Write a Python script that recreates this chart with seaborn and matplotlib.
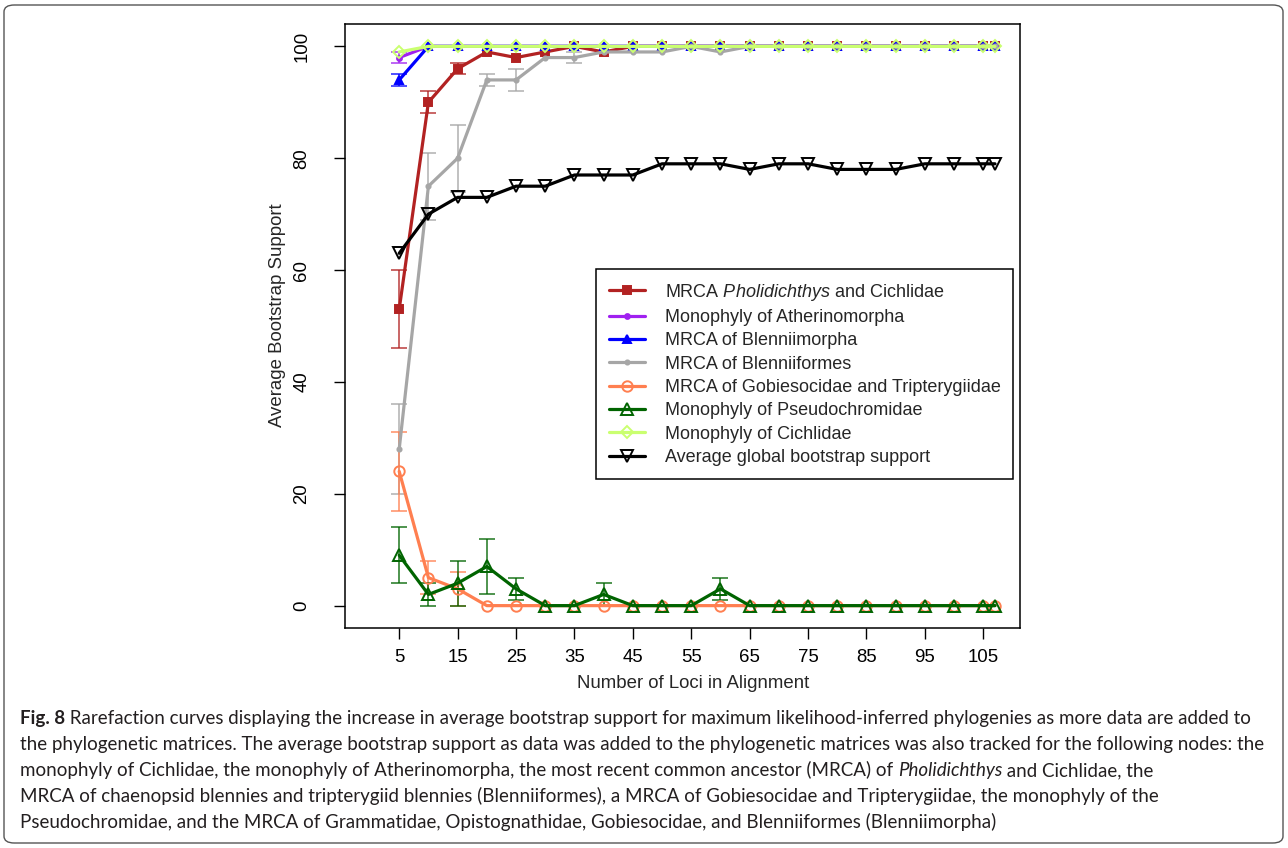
import numpy as np
import pandas as pd
import seaborn as sns
import matplotlib.pyplot as plt
from matplotlib.patches import FancyBboxPatch

# Data
loci = [5, 10, 15, 20, 25, 30, 35, 40, 45, 50, 55, 60, 65, 70, 75, 80, 85, 90, 95, 100, 105, 107]

pholidichthys = [53, 90, 96, 99, 98, 99, 100, 99, 100, 100, 100, 100, 100, 100, 100, 100, 100, 100, 100, 100, 100, 100]
atherinomorpha = [98, 100, 100, 100, 100, 100, 100, 100, 100, 100, 100, 100, 100, 100, 100, 100, 100, 100, 100, 100, 100, 100]
blenniimorpha = [94, 100, 100, 100, 100, 100, 100, 100, 100, 100, 100, 100, 100, 100, 100, 100, 100, 100, 100, 100, 100, 100]
blenniiformes = [28, 75, 80, 94, 94, 98, 98, 99, 99, 99, 100, 99, 100, 100, 100, 100, 100, 100, 100, 100, 100, 100]
gobiesocidae = [24, 5, 3, 0, 0, 0, 0, 0, 0, 0, 0, 0, 0, 0, 0, 0, 0, 0, 0, 0, 0, 0]
pseudochromidae = [9, 2, 4, 7, 3, 0, 0, 2, 0, 0, 0, 3, 0, 0, 0, 0, 0, 0, 0, 0, 0, 0]
cichlidae = [99, 100, 100, 100, 100, 100, 100, 100, 100, 100, 100, 100, 100, 100, 100, 100, 100, 100, 100, 100, 100, 100]
global_support = [63, 70, 73, 73, 75, 75, 77, 77, 77, 79, 79, 79, 78, 79, 79, 78, 78, 78, 79, 79, 79, 79]

# error bars (x, lower, upper)
pholid_err_x, pholid_lo, pholid_hi = [5, 10, 15], [46, 88, 95], [60, 92, 97]
ather_err_x, ather_lo, ather_hi = [5], [97], [99]
bmorpha_err_x, bmorpha_lo, bmorpha_hi = [5], [93], [95]
bformes_err_x = [5, 10, 15, 20, 25, 35]
bformes_lo = [20, 69, 74, 93, 92, 97]
bformes_hi = [36, 81, 86, 95, 96, 99]
gobie_err_x, gobie_lo, gobie_hi = [5, 10, 15], [17, 2, 0], [31, 8, 6]
pseudo_err_x = [5, 10, 15, 20, 25, 40, 60]
pseudo_lo = [4, 0, 0, 2, 1, 0, 1]
pseudo_hi = [14, 4, 8, 12, 5, 4, 5]

x_ticks = [5, 15, 25, 35, 45, 55, 65, 75, 85, 95, 105]
y_ticks = [0, 20, 40, 60, 80, 100]

caption_lines = [
    [("Fig. 8", "bold"), (" Rarefaction curves displaying the increase in average bootstrap support for maximum likelihood-inferred phylogenies as more data are added to", "normal")],
    [("the phylogenetic matrices. The average bootstrap support as data was added to the phylogenetic matrices was also tracked for the following nodes: the", "normal")],
    [("monophyly of Cichlidae, the monophyly of Atherinomorpha, the most recent common ancestor (MRCA) of ", "normal"), ("Pholidichthys", "italic"), (" and Cichlidae, the", "normal")],
    [("MRCA of chaenopsid blennies and tripterygiid blennies (Blenniiformes), a MRCA of Gobiesocidae and Tripterygiidae, the monophyly of the", "normal")],
    [("Pseudochromidae, and the MRCA of Grammatidae, Opistognathidae, Gobiesocidae, and Blenniiformes (Blenniimorpha)", "normal")],
]

sns.set_style("ticks")
plt.rcParams['font.family'] = ['Liberation Sans', 'DejaVu Sans']
plt.rcParams['mathtext.fontset'] = 'custom'
plt.rcParams['mathtext.rm'] = 'Liberation Sans'
plt.rcParams['mathtext.it'] = 'Liberation Sans:italic'

fig = plt.figure(figsize=(12.88, 8.48), dpi=100)
ax = fig.add_axes([345 / 1288, 1 - 628 / 848, 675 / 1288, 604 / 848])

# label, values, colour, marker, size, filled, error bars
series = [
    (r"MRCA $\it{Pholidichthys}$ and Cichlidae", pholidichthys, "#B22222", "s", 5.5, True,
     pholid_err_x, pholid_lo, pholid_hi),
    ("Monophyly of Atherinomorpha", atherinomorpha, "#A020F0", "o", 3.5, True,
     ather_err_x, ather_lo, ather_hi),
    ("MRCA of Blenniimorpha", blenniimorpha, "#0000FF", "^", 6, True,
     bmorpha_err_x, bmorpha_lo, bmorpha_hi),
    ("MRCA of Blenniiformes", blenniiformes, "#A6A6A6", "o", 3, True,
     bformes_err_x, bformes_lo, bformes_hi),
    ("MRCA of Gobiesocidae and Tripterygiidae", gobiesocidae, "#FF7F50", "o", 7.5, False,
     gobie_err_x, gobie_lo, gobie_hi),
    ("Monophyly of Pseudochromidae", pseudochromidae, "#006400", "^", 8, False,
     pseudo_err_x, pseudo_lo, pseudo_hi),
    ("Monophyly of Cichlidae", cichlidae, "#CAFF70", "D", 6.5, False, [], [], []),
    ("Average global bootstrap support", global_support, "#000000", "v", 8.5, False, [], [], []),
]

for label, vals, col, mk, ms, filled, ex, lo, hi in series:
    if ex:
        mid = np.array([vals[loci.index(v)] for v in ex])
        ax.errorbar(ex, mid, yerr=[mid - np.array(lo), np.array(hi) - mid], fmt='none',
                    ecolor=col, alpha=0.75, capsize=6, elinewidth=1.3, capthick=1.3, zorder=1.5)
    sns.lineplot(x=loci, y=vals, ax=ax, color=col, linewidth=2.3, marker=mk, markersize=ms,
                 markerfacecolor=col if filled else 'none', markeredgecolor=col,
                 markeredgewidth=1.4, label=label, zorder=2)

ax.set_xlim(-4.28, 111.28)
ax.set_ylim(-4, 104)
ax.set_xticks(x_ticks)
ax.set_yticks(y_ticks)
ax.tick_params(axis='both', labelsize=13.4, length=8, width=1, color='black', labelcolor='black')
ax.tick_params(axis='x', pad=7)
ax.tick_params(axis='y', pad=17, labelrotation=90)
for lab in ax.get_yticklabels():
    lab.set_va('center')
for s in ax.spines.values():
    s.set_visible(True)
    s.set_color('black')
    s.set_linewidth(1.1)

ax.set_xlabel("Number of Loci in Alignment", fontsize=13.4)
ax.set_ylabel("Average Bootstrap Support", fontsize=13.4)
ax.xaxis.set_label_coords((693 - 345) / 675, -(675 - 628) / 604)
ax.yaxis.set_label_coords(-(345 - 286) / 675, (628 - 315) / 604)

leg = ax.legend(loc='upper left', bbox_to_anchor=((596 - 345) / 675, (628 - 269) / 604),
                borderaxespad=0, fontsize=13.0, frameon=True, fancybox=False, edgecolor='black',
                framealpha=1, handlelength=2.0, handletextpad=1.1, labelspacing=0.35,
                borderpad=0.7)
leg.get_frame().set_linewidth(1.1)

# outer frame of the figure panel
fig.patches.append(FancyBboxPatch((4 / 1288, 5 / 848), 1279 / 1288, 838 / 848,
                                  boxstyle="round,pad=0,rounding_size=0.008",
                                  transform=fig.transFigure, facecolor='none',
                                  edgecolor='#555555', linewidth=1.0))

# caption
renderer = fig.canvas.get_renderer()
for i, runs in enumerate(caption_lines):
    xpos = 20 / 1288
    ypos = 1 - (724 + 26 * i) / 848
    for txt, sty in runs:
        t = fig.text(xpos, ypos, txt, fontsize=13.5, color='#231F20', va='baseline',
                     family=['Lato', 'DejaVu Sans'],
                     weight='bold' if sty == 'bold' else 'normal',
                     style='italic' if sty == 'italic' else 'normal')
        xpos += t.get_window_extent(renderer=renderer).width / fig.bbox.width

fig.savefig("out.png", dpi=100)
